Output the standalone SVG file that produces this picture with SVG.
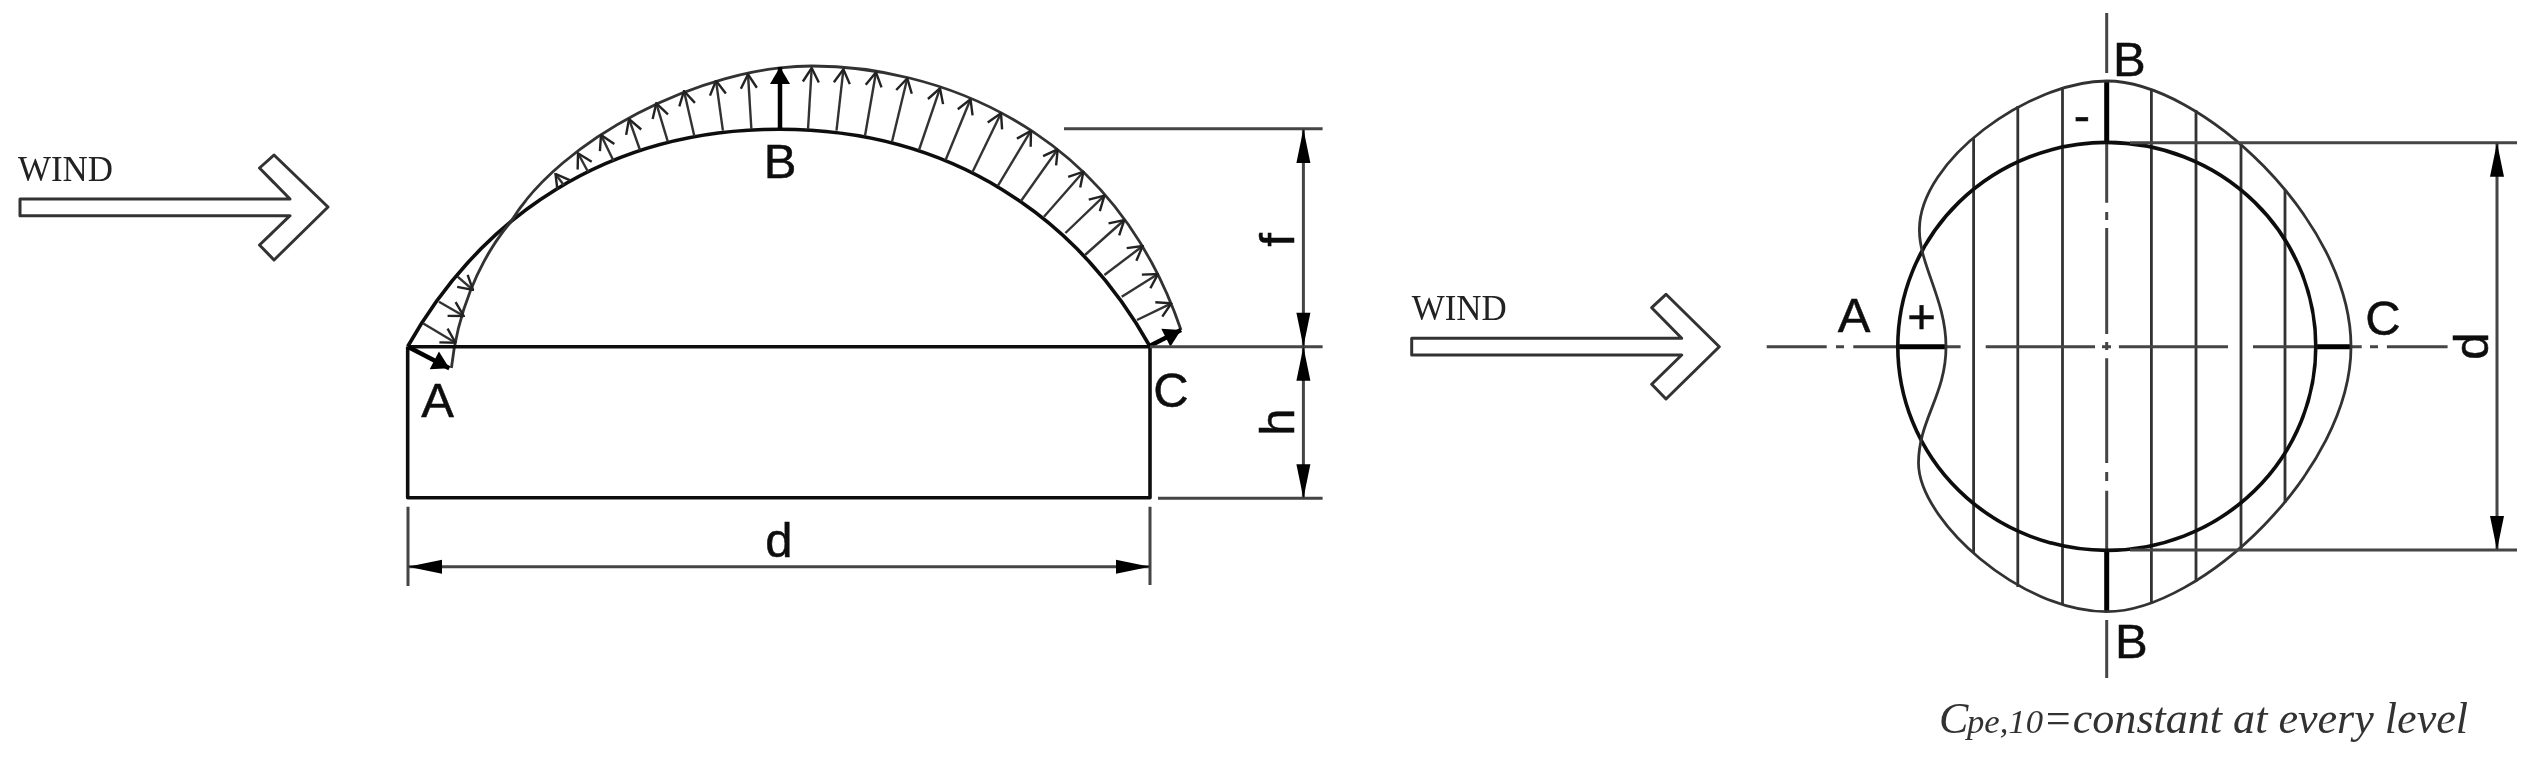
<svg xmlns="http://www.w3.org/2000/svg" width="2545" height="758" viewBox="0 0 2545 758">
<defs>
<filter id="soft" x="0" y="0" width="2545" height="758" filterUnits="userSpaceOnUse"><feGaussianBlur stdDeviation="0.7"/></filter>
<marker id="open" viewBox="-17 -10 18 20" refX="0" refY="0" markerWidth="18" markerHeight="20" markerUnits="userSpaceOnUse" orient="auto"><path d="M-14,-8 L0,0 L-14,8" fill="none" stroke="#222" stroke-width="2.4"/></marker>
<marker id="solid" viewBox="-20 -11 21 22" refX="0" refY="0" markerWidth="21" markerHeight="22" markerUnits="userSpaceOnUse" orient="auto"><path d="M-17,-10 L0,0 L-17,10 Z" fill="#000"/></marker>
<marker id="dim" viewBox="-36 -8 37 16" refX="0" refY="0" markerWidth="37" markerHeight="16" markerUnits="userSpaceOnUse" orient="auto-start-reverse"><path d="M-34,-7 L0,0 L-34,7 Z" fill="#000"/></marker>
</defs>
<style>
.t{font-family:"Liberation Sans",Arial,sans-serif;font-size:49px;fill:#111;stroke:#111;stroke-width:.5}
.w{font-family:"Liberation Serif","Times New Roman",serif;font-size:35px;fill:#222}
.c{font-family:"Liberation Serif","Times New Roman",serif;font-style:italic;font-size:44px;fill:#333}
.s{fill:none;stroke:#111;stroke-width:3.6;stroke-linejoin:round}
.o{fill:none;stroke:#333;stroke-width:2.8;stroke-linejoin:round}
.h{fill:none;stroke:#333;stroke-width:2.8}
.d{fill:none;stroke:#444;stroke-width:3}
.cl{fill:none;stroke:#444;stroke-width:3}
.th{fill:none;stroke:#000;stroke-width:5}
.p{stroke:#333;stroke-width:2.4;fill:none;marker-end:url(#open)}
.b{stroke:#000;stroke-width:4.5;fill:none;marker-end:url(#solid)}
.da{stroke:#444;stroke-width:3;fill:none;marker-start:url(#dim);marker-end:url(#dim)}
.wa{fill:#fff;stroke:#333;stroke-width:3;stroke-linejoin:round}
</style>
<rect width="2545" height="758" fill="#fff"/>
<g filter="url(#soft)">
<g id="wind-left">
<polygon class="wa" points="20,199 290,199 259.5,168 274,155 328,207 274,260 259.5,245 290,215.7 20,215.7"/>
<text class="w" x="18" y="180.7" textLength="95" lengthAdjust="spacingAndGlyphs">WIND</text>
</g>
<g id="wind-right">
<polygon class="wa" points="1411.7,338.3 1681.7,338.3 1651.7,307.7 1666,294.3 1719.3,346.7 1666,399 1651.7,384.3 1681.7,355 1411.7,355"/>
<text class="w" x="1411.7" y="320" textLength="95" lengthAdjust="spacingAndGlyphs">WIND</text>
</g>
<g id="section">
<path class="s" d="M407.7,346.5 C480,218 606,129.3 779,129.3 C952,129.3 1078,218 1150,346.5"/>
<path class="o" d="M451.4,368 C457,316 477,262 510.6,222 C560,140 700,66 812,66 C930,66 1110,122 1181,330"/>
<path class="s" d="M407.7,346.7 H1150 M407.7,346.5 V497.7 H1150 V346.5"/>
<text class="t" x="437.5" y="416.7" text-anchor="middle">A</text>
<text class="t" x="780" y="178" text-anchor="middle">B</text>
<text class="t" x="1171" y="407" text-anchor="middle">C</text>
</g>
<g id="pressure-arrows">
<line class="b" x1="407.8" y1="346.7" x2="449.4" y2="368.3"/>
<line class="p" x1="422.9" y1="323.3" x2="455.5" y2="342.7"/>
<line class="p" x1="439" y1="301.7" x2="463.7" y2="316"/>
<line class="p" x1="457.6" y1="276.7" x2="473" y2="290"/>
<line class="p" x1="563.7" y1="185" x2="555.5" y2="174"/>
<line class="p" x1="588" y1="171.7" x2="578" y2="153.3"/>
<line class="p" x1="613.5" y1="160.7" x2="601" y2="135"/>
<line class="p" x1="640" y1="150" x2="629" y2="119"/>
<line class="p" x1="667.8" y1="141.7" x2="656.3" y2="103.3"/>
<line class="p" x1="694.3" y1="136" x2="684" y2="91"/>
<line class="p" x1="722.9" y1="130.7" x2="716" y2="80.7"/>
<line class="p" x1="751.4" y1="129.3" x2="748" y2="74.3"/>
<line class="b" x1="780" y1="129.3" x2="780" y2="67"/>
<line class="p" x1="808" y1="129.3" x2="811.7" y2="68"/>
<line class="p" x1="836.5" y1="130.7" x2="843.4" y2="69.3"/>
<line class="p" x1="865" y1="135.7" x2="876" y2="72.3"/>
<line class="p" x1="892" y1="141.7" x2="907.3" y2="78.3"/>
<line class="p" x1="919" y1="150" x2="940" y2="88.3"/>
<line class="p" x1="945.6" y1="160" x2="970.5" y2="99.3"/>
<line class="p" x1="972.4" y1="172.3" x2="1001" y2="113.3"/>
<line class="p" x1="998" y1="185.7" x2="1031" y2="130.7"/>
<line class="p" x1="1021" y1="201" x2="1057.7" y2="149.3"/>
<line class="p" x1="1044" y1="216.7" x2="1083.4" y2="171.7"/>
<line class="p" x1="1065.4" y1="233" x2="1104.4" y2="195.7"/>
<line class="p" x1="1085" y1="255" x2="1124.3" y2="220"/>
<line class="p" x1="1104.4" y1="275" x2="1142.7" y2="246"/>
<line class="p" x1="1121.7" y1="296.7" x2="1158" y2="274"/>
<line class="p" x1="1137" y1="320" x2="1171.4" y2="303.3"/>
<line class="b" x1="1149.6" y1="346" x2="1181" y2="330"/>
</g>
<g id="section-dimensions">
<path class="d" d="M1064,128.7 H1322.6 M1150,346.7 H1322.6 M1158,498.3 H1322.6 M408,506.7 V586 M1150,506.7 V585"/>
<line class="da" x1="1303.4" y1="129" x2="1303.4" y2="346.7"/>
<line class="da" x1="1303.4" y1="346.7" x2="1303.4" y2="498.3"/>
<line class="da" x1="408" y1="566.7" x2="1150" y2="566.7"/>
<text class="t" transform="rotate(-90 1294 240)" x="1294" y="240" text-anchor="middle">f</text>
<text class="t" transform="rotate(-90 1294.3 422)" x="1294.3" y="422" text-anchor="middle">h</text>
<text class="t" x="779" y="557.3" text-anchor="middle">d</text>
</g>
<g id="plan">
<path class="h" d="M1973.6,138 V553 M2017.8,106 V587 M2062.5,87 V605 M2151.4,90 V603 M2196,110 V582 M2241,143 V550 M2285,190 V503"/>
<path class="cl" d="M2106.7,13 V73 M2106.7,142.7 V202.7 M2106.7,212 V220 M2106.7,228 V334 M2106.7,342 V350 M2106.7,358.3 V463 M2106.7,472 V481 M2106.7,490.7 V550 M2106.7,620 V678"/>
<path class="cl" d="M1766.7,346.7 H1826.7 M1836,346.7 H1844 M1853.3,346.7 H1960.6 M1985.7,346.7 H2095 M2102,346.7 H2111 M2118.9,346.7 H2228 M2253,346.7 H2361.7 M2370,346.7 H2378 M2386.9,346.7 H2447.6"/>
<path class="th" d="M2106.7,81 V142.7 M2106.7,550 V611.7 M1897.7,346.7 H1946 M2316,346.7 H2351"/>
<ellipse class="s" cx="2106.8" cy="346.4" rx="209" ry="204"/>
<path class="o" d="M2106.7,81 C2200,81 2351,220 2351,346.7 C2351,470 2200,611.7 2106.7,611.7 C2020,611.7 1918.5,520 1918.5,463 C1918.5,420 1946,395 1946,346.7 C1946,300 1919.4,265 1919.4,230 C1919,160 2030,81 2106.7,81 Z"/>
<text class="t" x="1854" y="331.7" text-anchor="middle">A</text>
<text class="t" x="2383" y="335" text-anchor="middle">C</text>
<text class="t" x="2113" y="76">B</text>
<text class="t" x="2115" y="658">B</text>
<text class="t" x="2082" y="132" text-anchor="middle">-</text>
<text class="t" x="1921.5" y="333" text-anchor="middle">+</text>
</g>
<g id="plan-dimensions">
<path class="d" d="M2130,142.7 H2517 M2130,550 H2517"/>
<line class="da" x1="2497" y1="142.7" x2="2497" y2="550"/>
<text class="t" transform="rotate(-90 2487.5 346)" x="2487.5" y="346" text-anchor="middle">d</text>
</g>
<text id="caption" class="c" x="1939" y="733">C<tspan x="1967" font-size="33" textLength="76" lengthAdjust="spacingAndGlyphs">pe,10</tspan><tspan x="2043" textLength="425" lengthAdjust="spacingAndGlyphs">=constant at every level</tspan></text>
</g>
</svg>
